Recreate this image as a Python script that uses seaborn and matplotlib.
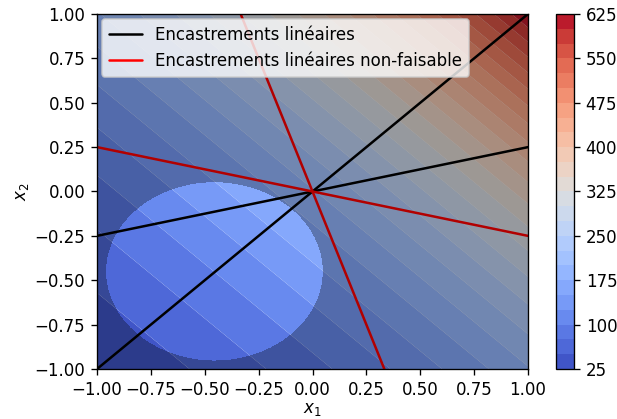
import numpy as np
import pandas as pd
import matplotlib
matplotlib.use("Agg")
import matplotlib.pyplot as plt
import seaborn as sns

# ---- data ----
levels = np.arange(25, 626, 25)            # contour levels (colorbar 25..625)
cbar_ticks = [25, 100, 175, 250, 325, 400, 475, 550, 625]
axis_ticks = [-1.0, -0.75, -0.5, -0.25, 0.0, 0.25, 0.5, 0.75, 1.0]
# objective: f = amp * exp(k1*x1 + k2*x2) + offset
amp, k1, k2, offset = 292.0, 0.45, 0.45, -94.0
# feasible disc
disc_center = (-0.455, -0.45)
disc_radius = 0.505
# linear embeddings (lines through origin): slopes
feasible_slopes = [1.0, 0.25]
infeasible_slopes = [-3.0, -0.25]
label_feasible = "Encastrements linéaires"
label_infeasible = "Encastrements linéaires non-faisable"

sns.set_style("ticks", {"axes.edgecolor": "black", "text.color": "black",
                        "xtick.color": "black", "ytick.color": "black",
                        "axes.labelcolor": "black"})
plt.rcParams["font.family"] = ["DejaVu Sans"]
plt.rcParams["font.size"] = 10

W, H, DPI = 617, 419, 120
fig = plt.figure(figsize=(W / DPI, H / DPI), dpi=DPI)
ax = fig.add_axes([97/W, 1-369/H, 431/W, 355/H])
cax = fig.add_axes([556/W, 1-369/H, 18/W, 355/H])

g = np.linspace(-1, 1, 400)
X1, X2 = np.meshgrid(g, g)
F = amp * np.exp(k1 * X1 + k2 * X2) + offset
F = np.clip(F, levels[0] + 1e-6, levels[-1] - 1e-6)

cf = ax.contourf(X1, X2, F, levels=levels, cmap="coolwarm", antialiased=True, zorder=1)

xs = np.array([-1.0, 1.0])
for i, s in enumerate(feasible_slopes):
    df = pd.DataFrame({"x": xs, "y": s * xs})
    sns.lineplot(data=df, x="x", y="y", color="black", lw=1.5, ax=ax,
                 label=label_feasible if i == 0 else None, legend=False, zorder=2)
for i, s in enumerate(infeasible_slopes):
    xe = np.array([-1.0 / max(1, abs(s)), 1.0 / max(1, abs(s))])
    df = pd.DataFrame({"x": xe, "y": s * xe})
    sns.lineplot(data=df, x="x", y="y", color="red", lw=1.5, ax=ax,
                 label=label_infeasible if i == 0 else None, legend=False, zorder=2)

# infeasible region shading
G = (X1 - disc_center[0])**2 + (X2 - disc_center[1])**2 - disc_radius**2
ax.contourf(X1, X2, G, levels=[0, 10], colors="black", alpha=0.3, zorder=3)

ax.set_xlim(-1, 1)
ax.set_ylim(-1, 1)
ax.set_xticks(axis_ticks)
ax.set_yticks(axis_ticks)
ax.set_xlabel("$x_1$", labelpad=1)
ax.set_ylabel("$x_2$", labelpad=2)
leg = ax.legend(loc="upper left", frameon=True, borderaxespad=0.3)
leg.set_zorder(10)

cb = fig.colorbar(cf, cax=cax, ticks=cbar_ticks)
cb.outline.set_edgecolor("black")

fig.savefig("out.png", dpi=DPI)
